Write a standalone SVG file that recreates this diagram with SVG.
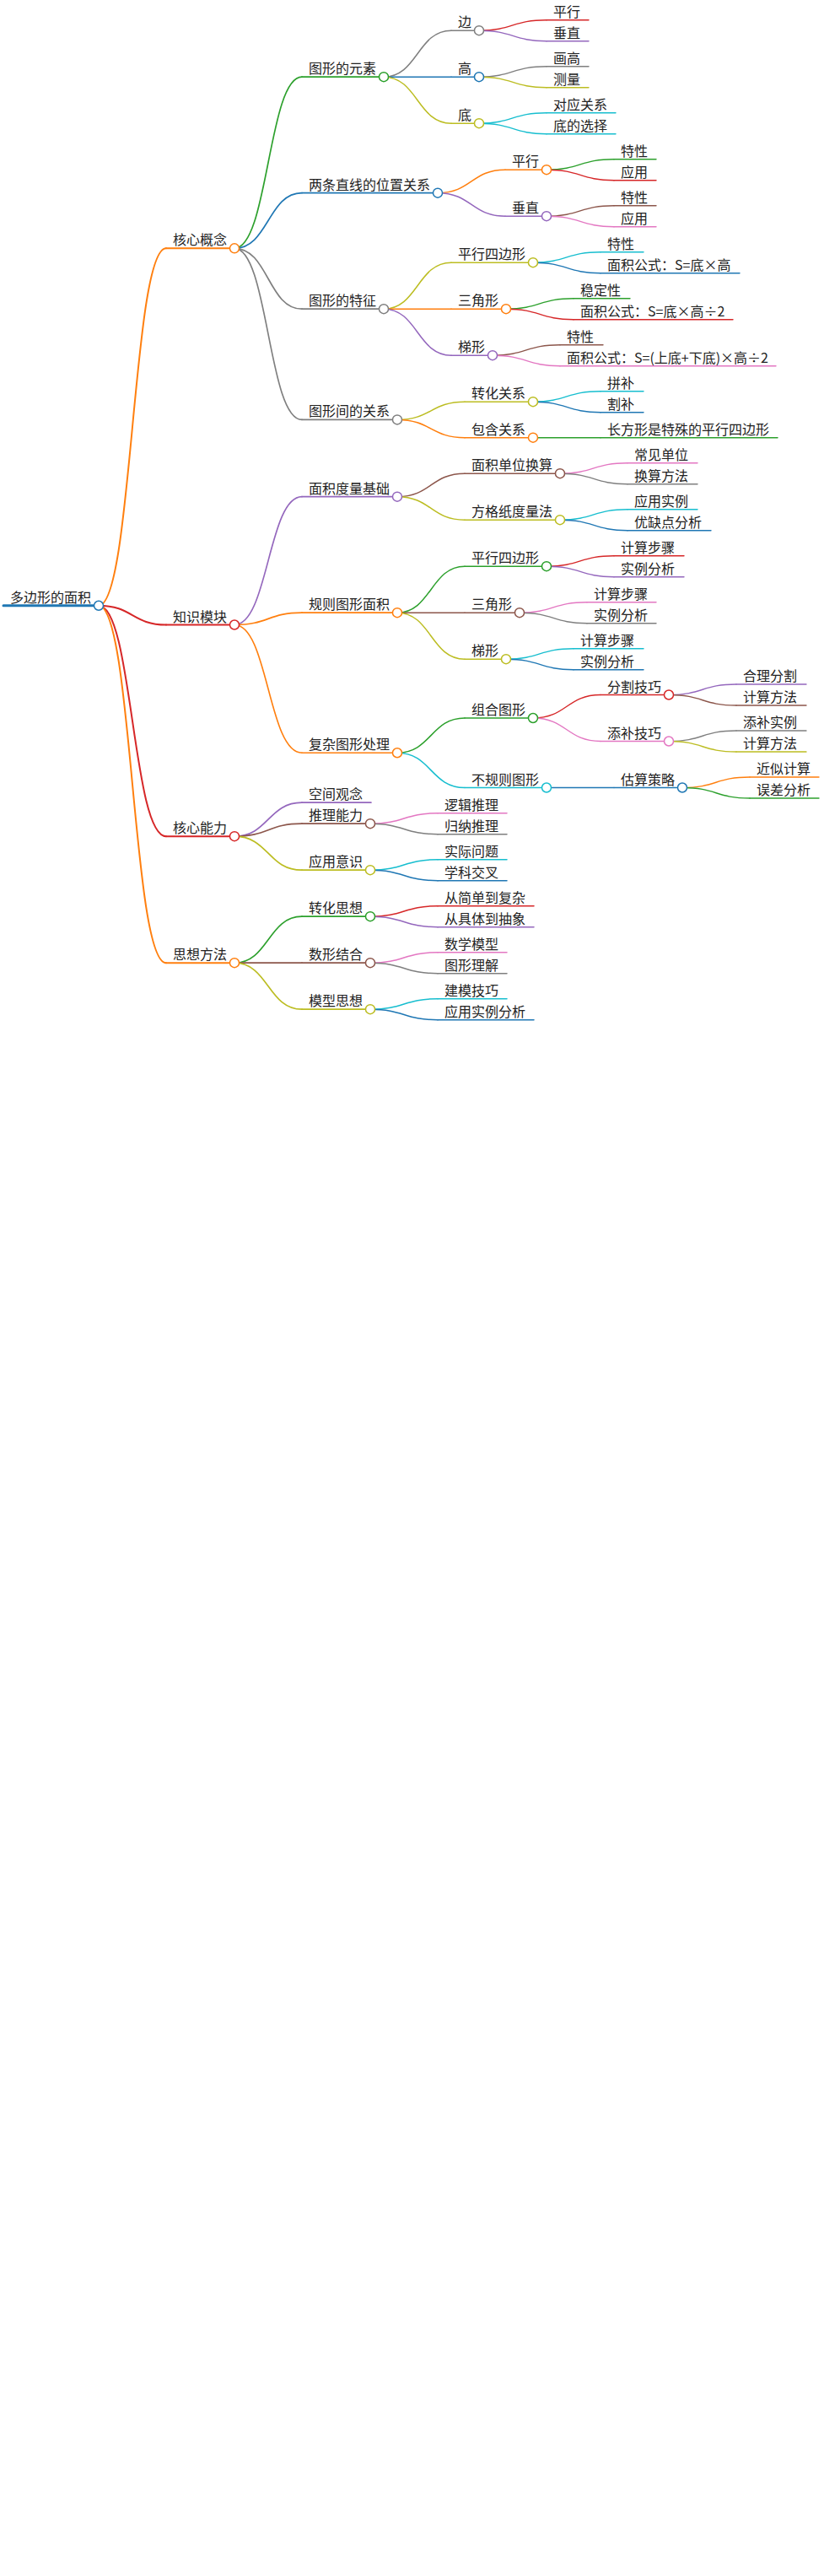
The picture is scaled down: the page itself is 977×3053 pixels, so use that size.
<svg xmlns="http://www.w3.org/2000/svg" width="977" height="3053" viewBox="0 0 977 3053">
<style>
text{font-family:"Noto Sans CJK SC","Noto Sans",sans-serif;font-size:16px;fill:#222}
path{fill:none;stroke-linecap:round}
circle{fill:#fff;stroke-width:1.5}
.sB{stroke:#1f77b4}.sO{stroke:#ff7f0e}.sG{stroke:#2ca02c}.sR{stroke:#d62728}.sP{stroke:#9467bd}
.sBr{stroke:#8c564b}.sPk{stroke:#e377c2}.sGy{stroke:#7f7f7f}.sY{stroke:#bcbd22}.sC{stroke:#17becf}
.d0{stroke-width:3}.d1{stroke-width:2}.d2{stroke-width:1.67}.d3{stroke-width:1.5}.d4{stroke-width:1.4}.d5{stroke-width:1.33}
</style>
<rect width="977" height="3053" fill="#fff"/>
<g id="connectors">
<path class="sO d1" d="M117 717.75C157 717.75 157 294.3 197 294.3"/>
<path class="sR d1" d="M117 717.75C157 717.75 157 740.5 197 740.5"/>
<path class="sR d1" d="M117 717.75C157 717.75 157 991.2 197 991.2"/>
<path class="sO d1" d="M117 717.75C157 717.75 157 1141.2 197 1141.2"/>
<path class="sG d2" d="M278 294.3C318 294.3 318 91.2 358 91.2"/>
<path class="sB d2" d="M278 294.3C318 294.3 318 228.7 358 228.7"/>
<path class="sGy d2" d="M278 294.3C318 294.3 318 366.2 358 366.2"/>
<path class="sGy d2" d="M278 294.3C318 294.3 318 497.45 358 497.45"/>
<path class="sP d2" d="M278 740.5C318 740.5 318 588.7 358 588.7"/>
<path class="sO d2" d="M278 740.5C318 740.5 318 726.2 358 726.2"/>
<path class="sO d2" d="M278 740.5C318 740.5 318 892.25 358 892.25"/>
<path class="sP d2" d="M278 991.2C318 991.2 318 951.2 358 951.2"/>
<path class="sBr d2" d="M278 991.2C318 991.2 318 976.2 358 976.2"/>
<path class="sY d2" d="M278 991.2C318 991.2 318 1031.2 358 1031.2"/>
<path class="sG d2" d="M278 1141.2C318 1141.2 318 1086.2 358 1086.2"/>
<path class="sBr d2" d="M278 1141.2L358 1141.2"/>
<path class="sY d2" d="M278 1141.2C318 1141.2 318 1196.2 358 1196.2"/>
<path class="sGy d3" d="M455 91.2C495 91.2 495 36.2 535 36.2"/>
<path class="sB d3" d="M455 91.2L535 91.2"/>
<path class="sY d3" d="M455 91.2C495 91.2 495 146.2 535 146.2"/>
<path class="sO d3" d="M519 228.7C559 228.7 559 201.2 599 201.2"/>
<path class="sP d3" d="M519 228.7C559 228.7 559 256.2 599 256.2"/>
<path class="sY d3" d="M455 366.2C495 366.2 495 311.2 535 311.2"/>
<path class="sO d3" d="M455 366.2L535 366.2"/>
<path class="sP d3" d="M455 366.2C495 366.2 495 421.2 535 421.2"/>
<path class="sY d3" d="M471 497.45C511 497.45 511 476.2 551 476.2"/>
<path class="sO d3" d="M471 497.45C511 497.45 511 518.7 551 518.7"/>
<path class="sBr d3" d="M471 588.7C511 588.7 511 561.2 551 561.2"/>
<path class="sY d3" d="M471 588.7C511 588.7 511 616.2 551 616.2"/>
<path class="sG d3" d="M471 726.2C511 726.2 511 671.2 551 671.2"/>
<path class="sBr d3" d="M471 726.2L551 726.2"/>
<path class="sY d3" d="M471 726.2C511 726.2 511 781.2 551 781.2"/>
<path class="sG d3" d="M471 892.25C511 892.25 511 851 551 851"/>
<path class="sC d3" d="M471 892.25C511 892.25 511 933.5 551 933.5"/>
<path class="sPk d3" d="M439 976.2C479 976.2 479 963.7 519 963.7"/>
<path class="sGy d3" d="M439 976.2C479 976.2 479 988.7 519 988.7"/>
<path class="sC d3" d="M439 1031.2C479 1031.2 479 1018.7 519 1018.7"/>
<path class="sB d3" d="M439 1031.2C479 1031.2 479 1043.7 519 1043.7"/>
<path class="sR d3" d="M439 1086.2C479 1086.2 479 1073.7 519 1073.7"/>
<path class="sP d3" d="M439 1086.2C479 1086.2 479 1098.7 519 1098.7"/>
<path class="sPk d3" d="M439 1141.2C479 1141.2 479 1128.7 519 1128.7"/>
<path class="sGy d3" d="M439 1141.2C479 1141.2 479 1153.7 519 1153.7"/>
<path class="sC d3" d="M439 1196.2C479 1196.2 479 1183.7 519 1183.7"/>
<path class="sB d3" d="M439 1196.2C479 1196.2 479 1208.7 519 1208.7"/>
<path class="sR d4" d="M568 36.2C608 36.2 608 23.7 648 23.7"/>
<path class="sP d4" d="M568 36.2C608 36.2 608 48.7 648 48.7"/>
<path class="sGy d4" d="M568 91.2C608 91.2 608 78.7 648 78.7"/>
<path class="sY d4" d="M568 91.2C608 91.2 608 103.7 648 103.7"/>
<path class="sC d4" d="M568 146.2C608 146.2 608 133.7 648 133.7"/>
<path class="sC d4" d="M568 146.2C608 146.2 608 158.7 648 158.7"/>
<path class="sG d4" d="M648 201.2C688 201.2 688 188.7 728 188.7"/>
<path class="sR d4" d="M648 201.2C688 201.2 688 213.7 728 213.7"/>
<path class="sBr d4" d="M648 256.2C688 256.2 688 243.7 728 243.7"/>
<path class="sPk d4" d="M648 256.2C688 256.2 688 268.7 728 268.7"/>
<path class="sC d4" d="M632 311.2C672 311.2 672 298.7 712 298.7"/>
<path class="sB d4" d="M632 311.2C672 311.2 672 323.7 712 323.7"/>
<path class="sG d4" d="M600 366.2C640 366.2 640 353.7 680 353.7"/>
<path class="sR d4" d="M600 366.2C640 366.2 640 378.7 680 378.7"/>
<path class="sBr d4" d="M584 421.2C624 421.2 624 408.7 664 408.7"/>
<path class="sPk d4" d="M584 421.2C624 421.2 624 433.7 664 433.7"/>
<path class="sC d4" d="M632 476.2C672 476.2 672 463.7 712 463.7"/>
<path class="sB d4" d="M632 476.2C672 476.2 672 488.7 712 488.7"/>
<path class="sG d4" d="M632 518.7L712 518.7"/>
<path class="sPk d4" d="M664 561.2C704 561.2 704 548.7 744 548.7"/>
<path class="sGy d4" d="M664 561.2C704 561.2 704 573.7 744 573.7"/>
<path class="sC d4" d="M664 616.2C704 616.2 704 603.7 744 603.7"/>
<path class="sB d4" d="M664 616.2C704 616.2 704 628.7 744 628.7"/>
<path class="sR d4" d="M648 671.2C688 671.2 688 658.7 728 658.7"/>
<path class="sP d4" d="M648 671.2C688 671.2 688 683.7 728 683.7"/>
<path class="sPk d4" d="M616 726.2C656 726.2 656 713.7 696 713.7"/>
<path class="sGy d4" d="M616 726.2C656 726.2 656 738.7 696 738.7"/>
<path class="sC d4" d="M600 781.2C640 781.2 640 768.7 680 768.7"/>
<path class="sB d4" d="M600 781.2C640 781.2 640 793.7 680 793.7"/>
<path class="sR d4" d="M632 851C672 851 672 823.5 712 823.5"/>
<path class="sPk d4" d="M632 851C672 851 672 878.5 712 878.5"/>
<path class="sB d4" d="M648 933.5L728 933.5"/>
<path class="sP d5" d="M793 823.5C833 823.5 833 811 873 811"/>
<path class="sBr d5" d="M793 823.5C833 823.5 833 836 873 836"/>
<path class="sGy d5" d="M793 878.5C833 878.5 833 866 873 866"/>
<path class="sY d5" d="M793 878.5C833 878.5 833 891 873 891"/>
<path class="sO d5" d="M809 933.5C849 933.5 849 921 889 921"/>
<path class="sG d5" d="M809 933.5C849 933.5 849 946 889 946"/>
</g>
<g id="n-root"><path class="sB d0" d="M4 717.75H117"/><circle class="sB" cx="117" cy="717.75" r="5.5"/><text x="12" y="713.75">多边形的面积</text></g>
<g id="n-1"><path class="sO d1" d="M197 294.3H278"/><circle class="sO" cx="278" cy="294.3" r="5.5"/><text x="205" y="290.3">核心概念</text></g>
<g id="n-2"><path class="sR d1" d="M197 740.5H278"/><circle class="sR" cx="278" cy="740.5" r="5.5"/><text x="205" y="736.5">知识模块</text></g>
<g id="n-3"><path class="sR d1" d="M197 991.2H278"/><circle class="sR" cx="278" cy="991.2" r="5.5"/><text x="205" y="987.2">核心能力</text></g>
<g id="n-4"><path class="sO d1" d="M197 1141.2H278"/><circle class="sO" cx="278" cy="1141.2" r="5.5"/><text x="205" y="1137.2">思想方法</text></g>
<g id="n-1a"><path class="sG d2" d="M358 91.2H455"/><circle class="sG" cx="455" cy="91.2" r="5.5"/><text x="366" y="87.2">图形的元素</text></g>
<g id="n-1b"><path class="sB d2" d="M358 228.7H519"/><circle class="sB" cx="519" cy="228.7" r="5.5"/><text x="366" y="224.7">两条直线的位置关系</text></g>
<g id="n-1c"><path class="sGy d2" d="M358 366.2H455"/><circle class="sGy" cx="455" cy="366.2" r="5.5"/><text x="366" y="362.2">图形的特征</text></g>
<g id="n-1d"><path class="sGy d2" d="M358 497.45H471"/><circle class="sGy" cx="471" cy="497.45" r="5.5"/><text x="366" y="493.45">图形间的关系</text></g>
<g id="n-2a"><path class="sP d2" d="M358 588.7H471"/><circle class="sP" cx="471" cy="588.7" r="5.5"/><text x="366" y="584.7">面积度量基础</text></g>
<g id="n-2b"><path class="sO d2" d="M358 726.2H471"/><circle class="sO" cx="471" cy="726.2" r="5.5"/><text x="366" y="722.2">规则图形面积</text></g>
<g id="n-2c"><path class="sO d2" d="M358 892.25H471"/><circle class="sO" cx="471" cy="892.25" r="5.5"/><text x="366" y="888.25">复杂图形处理</text></g>
<g id="n-3a"><path class="sP d2" d="M358 951.2H440"/><text x="366" y="947.2">空间观念</text></g>
<g id="n-3b"><path class="sBr d2" d="M358 976.2H439"/><circle class="sBr" cx="439" cy="976.2" r="5.5"/><text x="366" y="972.2">推理能力</text></g>
<g id="n-3c"><path class="sY d2" d="M358 1031.2H439"/><circle class="sY" cx="439" cy="1031.2" r="5.5"/><text x="366" y="1027.2">应用意识</text></g>
<g id="n-4a"><path class="sG d2" d="M358 1086.2H439"/><circle class="sG" cx="439" cy="1086.2" r="5.5"/><text x="366" y="1082.2">转化思想</text></g>
<g id="n-4b"><path class="sBr d2" d="M358 1141.2H439"/><circle class="sBr" cx="439" cy="1141.2" r="5.5"/><text x="366" y="1137.2">数形结合</text></g>
<g id="n-4c"><path class="sY d2" d="M358 1196.2H439"/><circle class="sY" cx="439" cy="1196.2" r="5.5"/><text x="366" y="1192.2">模型思想</text></g>
<g id="n-1a1"><path class="sGy d3" d="M535 36.2H568"/><circle class="sGy" cx="568" cy="36.2" r="5.5"/><text x="543" y="32.2">边</text></g>
<g id="n-1a2"><path class="sB d3" d="M535 91.2H568"/><circle class="sB" cx="568" cy="91.2" r="5.5"/><text x="543" y="87.2">高</text></g>
<g id="n-1a3"><path class="sY d3" d="M535 146.2H568"/><circle class="sY" cx="568" cy="146.2" r="5.5"/><text x="543" y="142.2">底</text></g>
<g id="n-1b1"><path class="sO d3" d="M599 201.2H648"/><circle class="sO" cx="648" cy="201.2" r="5.5"/><text x="607" y="197.2">平行</text></g>
<g id="n-1b2"><path class="sP d3" d="M599 256.2H648"/><circle class="sP" cx="648" cy="256.2" r="5.5"/><text x="607" y="252.2">垂直</text></g>
<g id="n-1c1"><path class="sY d3" d="M535 311.2H632"/><circle class="sY" cx="632" cy="311.2" r="5.5"/><text x="543" y="307.2">平行四边形</text></g>
<g id="n-1c2"><path class="sO d3" d="M535 366.2H600"/><circle class="sO" cx="600" cy="366.2" r="5.5"/><text x="543" y="362.2">三角形</text></g>
<g id="n-1c3"><path class="sP d3" d="M535 421.2H584"/><circle class="sP" cx="584" cy="421.2" r="5.5"/><text x="543" y="417.2">梯形</text></g>
<g id="n-1d1"><path class="sY d3" d="M551 476.2H632"/><circle class="sY" cx="632" cy="476.2" r="5.5"/><text x="559" y="472.2">转化关系</text></g>
<g id="n-1d2"><path class="sO d3" d="M551 518.7H632"/><circle class="sO" cx="632" cy="518.7" r="5.5"/><text x="559" y="514.7">包含关系</text></g>
<g id="n-2a1"><path class="sBr d3" d="M551 561.2H664"/><circle class="sBr" cx="664" cy="561.2" r="5.5"/><text x="559" y="557.2">面积单位换算</text></g>
<g id="n-2a2"><path class="sY d3" d="M551 616.2H664"/><circle class="sY" cx="664" cy="616.2" r="5.5"/><text x="559" y="612.2">方格纸度量法</text></g>
<g id="n-2b1"><path class="sG d3" d="M551 671.2H648"/><circle class="sG" cx="648" cy="671.2" r="5.5"/><text x="559" y="667.2">平行四边形</text></g>
<g id="n-2b2"><path class="sBr d3" d="M551 726.2H616"/><circle class="sBr" cx="616" cy="726.2" r="5.5"/><text x="559" y="722.2">三角形</text></g>
<g id="n-2b3"><path class="sY d3" d="M551 781.2H600"/><circle class="sY" cx="600" cy="781.2" r="5.5"/><text x="559" y="777.2">梯形</text></g>
<g id="n-2c1"><path class="sG d3" d="M551 851H632"/><circle class="sG" cx="632" cy="851" r="5.5"/><text x="559" y="847">组合图形</text></g>
<g id="n-2c2"><path class="sC d3" d="M551 933.5H648"/><circle class="sC" cx="648" cy="933.5" r="5.5"/><text x="559" y="929.5">不规则图形</text></g>
<g id="n-3b1"><path class="sPk d3" d="M519 963.7H601"/><text x="527" y="959.7">逻辑推理</text></g>
<g id="n-3b2"><path class="sGy d3" d="M519 988.7H601"/><text x="527" y="984.7">归纳推理</text></g>
<g id="n-3c1"><path class="sC d3" d="M519 1018.7H601"/><text x="527" y="1014.7">实际问题</text></g>
<g id="n-3c2"><path class="sB d3" d="M519 1043.7H601"/><text x="527" y="1039.7">学科交叉</text></g>
<g id="n-4a1"><path class="sR d3" d="M519 1073.7H633"/><text x="527" y="1069.7">从简单到复杂</text></g>
<g id="n-4a2"><path class="sP d3" d="M519 1098.7H633"/><text x="527" y="1094.7">从具体到抽象</text></g>
<g id="n-4b1"><path class="sPk d3" d="M519 1128.7H601"/><text x="527" y="1124.7">数学模型</text></g>
<g id="n-4b2"><path class="sGy d3" d="M519 1153.7H601"/><text x="527" y="1149.7">图形理解</text></g>
<g id="n-4c1"><path class="sC d3" d="M519 1183.7H601"/><text x="527" y="1179.7">建模技巧</text></g>
<g id="n-4c2"><path class="sB d3" d="M519 1208.7H633"/><text x="527" y="1204.7">应用实例分析</text></g>
<g id="n-e1"><path class="sR d4" d="M648 23.7H698"/><text x="656" y="19.7">平行</text></g>
<g id="n-e2"><path class="sP d4" d="M648 48.7H698"/><text x="656" y="44.7">垂直</text></g>
<g id="n-e3"><path class="sGy d4" d="M648 78.7H698"/><text x="656" y="74.7">画高</text></g>
<g id="n-e4"><path class="sY d4" d="M648 103.7H698"/><text x="656" y="99.7">测量</text></g>
<g id="n-e5"><path class="sC d4" d="M648 133.7H730"/><text x="656" y="129.7">对应关系</text></g>
<g id="n-e6"><path class="sC d4" d="M648 158.7H730"/><text x="656" y="154.7">底的选择</text></g>
<g id="n-p1"><path class="sG d4" d="M728 188.7H778"/><text x="736" y="184.7">特性</text></g>
<g id="n-p2"><path class="sR d4" d="M728 213.7H778"/><text x="736" y="209.7">应用</text></g>
<g id="n-p3"><path class="sBr d4" d="M728 243.7H778"/><text x="736" y="239.7">特性</text></g>
<g id="n-p4"><path class="sPk d4" d="M728 268.7H778"/><text x="736" y="264.7">应用</text></g>
<g id="n-f1"><path class="sC d4" d="M712 298.7H763"/><text x="720" y="294.7">特性</text></g>
<g id="n-f2"><path class="sB d4" d="M712 323.7H877"/><text x="720" y="319.7">面积公式：S=底×高</text></g>
<g id="n-f3"><path class="sG d4" d="M680 353.7H747"/><text x="688" y="349.7">稳定性</text></g>
<g id="n-f4"><path class="sR d4" d="M680 378.7H869"/><text x="688" y="374.7">面积公式：S=底×高÷2</text></g>
<g id="n-f5"><path class="sBr d4" d="M664 408.7H715"/><text x="672" y="404.7">特性</text></g>
<g id="n-f6"><path class="sPk d4" d="M664 433.7H920"/><text x="672" y="429.7">面积公式：S=(上底+下底)×高÷2</text></g>
<g id="n-r1"><path class="sC d4" d="M712 463.7H763"/><text x="720" y="459.7">拼补</text></g>
<g id="n-r2"><path class="sB d4" d="M712 488.7H763"/><text x="720" y="484.7">割补</text></g>
<g id="n-r3"><path class="sG d4" d="M712 518.7H922"/><text x="720" y="514.7">长方形是特殊的平行四边形</text></g>
<g id="n-m1"><path class="sPk d4" d="M744 548.7H827"/><text x="752" y="544.7">常见单位</text></g>
<g id="n-m2"><path class="sGy d4" d="M744 573.7H827"/><text x="752" y="569.7">换算方法</text></g>
<g id="n-m3"><path class="sC d4" d="M744 603.7H827"/><text x="752" y="599.7">应用实例</text></g>
<g id="n-m4"><path class="sB d4" d="M744 628.7H843"/><text x="752" y="624.7">优缺点分析</text></g>
<g id="n-g1"><path class="sR d4" d="M728 658.7H811"/><text x="736" y="654.7">计算步骤</text></g>
<g id="n-g2"><path class="sP d4" d="M728 683.7H811"/><text x="736" y="679.7">实例分析</text></g>
<g id="n-g3"><path class="sPk d4" d="M696 713.7H778"/><text x="704" y="709.7">计算步骤</text></g>
<g id="n-g4"><path class="sGy d4" d="M696 738.7H778"/><text x="704" y="734.7">实例分析</text></g>
<g id="n-g5"><path class="sC d4" d="M680 768.7H763"/><text x="688" y="764.7">计算步骤</text></g>
<g id="n-g6"><path class="sB d4" d="M680 793.7H763"/><text x="688" y="789.7">实例分析</text></g>
<g id="n-c1"><path class="sR d4" d="M712 823.5H793"/><circle class="sR" cx="793" cy="823.5" r="5.5"/><text x="720" y="819.5">分割技巧</text></g>
<g id="n-c2"><path class="sPk d4" d="M712 878.5H793"/><circle class="sPk" cx="793" cy="878.5" r="5.5"/><text x="720" y="874.5">添补技巧</text></g>
<g id="n-c3"><path class="sB d4" d="M728 933.5H809"/><circle class="sB" cx="809" cy="933.5" r="5.5"/><text x="736" y="929.5">估算策略</text></g>
<g id="n-k1"><path class="sP d5" d="M873 811H956"/><text x="881" y="807">合理分割</text></g>
<g id="n-k2"><path class="sBr d5" d="M873 836H956"/><text x="881" y="832">计算方法</text></g>
<g id="n-k3"><path class="sGy d5" d="M873 866H956"/><text x="881" y="862">添补实例</text></g>
<g id="n-k4"><path class="sY d5" d="M873 891H956"/><text x="881" y="887">计算方法</text></g>
<g id="n-k5"><path class="sO d5" d="M889 921H971"/><text x="897" y="917">近似计算</text></g>
<g id="n-k6"><path class="sG d5" d="M889 946H971"/><text x="897" y="942">误差分析</text></g>
</svg>
